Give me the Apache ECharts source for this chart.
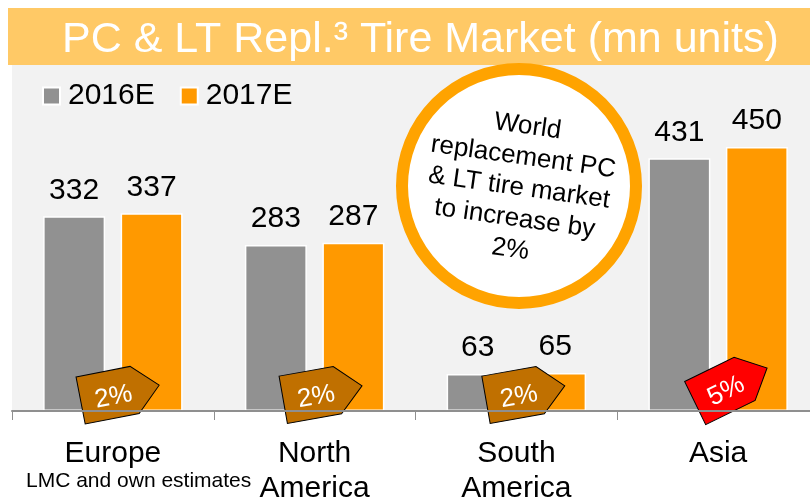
<!DOCTYPE html>
<html>
<head>
<meta charset="utf-8">
<script src="https://cdn.jsdelivr.net/npm/echarts@6/dist/echarts.min.js"></script>
<style>
  html, body { margin: 0; padding: 0; background: #ffffff; }
  #chart { width: 810px; height: 504px; }
</style>
</head>
<body>
<div id="chart"></div>
<script>
const categories = ['Europe', 'North\nAmerica', 'South\nAmerica', 'Asia'];
const seriesNames = ['2016E', '2017E'];
const values2016 = [332, 283, 63, 431];
const values2017 = [337, 287, 65, 450];
const growthLabels = ['2%', '2%', '2%', '5%'];
const badgeLevel = [31, 31, 31, 43.5];
const badgeShift = [7, 8, 9, 13];
const badgeTilt = [11, 10, 10, 26];
const badgeColors = ['#C07000', '#C07000', '#C07000', '#FF0000'];
const titleText = 'PC & LT Repl.\u00B3 Tire Market (mn units)';
const calloutText = 'World\nreplacement PC\n& LT tire market\nto increase by\n2%';
const sourceText = 'LMC and own estimates';

const FONT = '"Liberation Sans", Arial, sans-serif';
const chart = echarts.init(document.getElementById('chart'), null, { renderer: 'canvas' });

const staticGraphics = [
  { id: 'band', type: 'rect', shape: { x: 8, y: 8, width: 810, height: 57 }, style: { fill: '#FFC966' }, z: -3, silent: true },
  { id: 'ring', type: 'circle', shape: { cx: 519, cy: 186, r: 117 }, style: { fill: '#ffffff', stroke: '#FFA300', lineWidth: 12 }, z: 10, silent: true },
  {
    id: 'note', type: 'text', x: 519, y: 188, rotation: -8 * Math.PI / 180, z: 11, silent: true,
    style: { text: calloutText, fill: '#000000', font: '26px ' + FONT, align: 'center', verticalAlign: 'middle', lineHeight: 31 }
  }
];

const option = {
  animation: false,
  backgroundColor: '#ffffff',
  textStyle: { fontFamily: FONT },
  title: [
    {
      text: titleText,
      left: 62, top: 17, padding: 0, z: 1,
      textStyle: { color: '#ffffff', fontSize: 43, fontWeight: 'normal', fontFamily: FONT, lineHeight: 46 }
    },
    {
      text: sourceText,
      left: 26, top: 471, padding: 0, z: 1,
      textStyle: { color: '#000000', fontSize: 21, fontWeight: 'normal', fontFamily: FONT }
    }
  ],
  legend: {
    data: seriesNames,
    left: 42, top: 81, padding: 0, z: 1,
    itemWidth: 17, itemHeight: 17, itemGap: 25,
    icon: 'rect',
    textStyle: { fontSize: 30, color: '#000000', fontFamily: FONT, padding: [0, 0, 0, 3] }
  },
  grid: {
    left: 12, width: 807, top: 65, bottom: 93, z: -2,
    outerBoundsMode: 'none', containLabel: false,
    show: true, backgroundColor: '#F2F2F2', borderWidth: 0
  },
  xAxis: {
    type: 'category',
    data: categories,
    axisLine: { show: true, lineStyle: { color: '#8F8F8F', width: 2 } },
    axisTick: { show: true, length: 9, lineStyle: { color: '#8F8F8F', width: 1 } },
    axisLabel: { interval: 0, fontSize: 30, lineHeight: 35, margin: 25, color: '#000000', fontFamily: FONT }
  },
  yAxis: { type: 'value', min: 0, max: 590, show: false, splitLine: { show: false } },
  graphic: staticGraphics,
  series: [
    {
      name: seriesNames[0], type: 'bar', data: values2016, z: -1,
      barWidth: 62, barGap: '25%',
      itemStyle: { color: '#919191', borderColor: '#ffffff', borderWidth: 1.5 },
      label: { show: true, position: 'top', distance: 11, fontSize: 30, color: '#000000', fontFamily: FONT }
    },
    {
      name: seriesNames[1], type: 'bar', data: values2017, z: -1,
      barWidth: 62, barGap: '25%',
      itemStyle: { color: '#FF9900', borderColor: '#ffffff', borderWidth: 1.5 },
      label: { show: true, position: 'top', distance: 11, fontSize: 30, color: '#000000', fontFamily: FONT }
    }
  ]
};
chart.setOption(option);

// growth badges, positioned through the chart's own axes
const badgeGraphics = categories.map((c, i) => {
  const p = chart.convertToPixel({ xAxisIndex: 0, yAxisIndex: 0 }, [c, badgeLevel[i]]);
  return {
    id: 'badge' + i,
    type: 'group',
    x: p[0] + badgeShift[i],
    y: p[1],
    rotation: badgeTilt[i] * Math.PI / 180,
    z: 50,
    silent: true,
    children: [
      {
        type: 'polygon',
        shape: { points: [[-40, -24], [15, -24], [40, 0], [15, 24], [-40, 24]] },
        style: { fill: badgeColors[i], stroke: '#000000', lineWidth: 1 }
      },
      {
        type: 'text',
        x: -7, y: 3,
        style: { text: growthLabels[i], fill: '#ffffff', font: '26px ' + FONT, align: 'center', verticalAlign: 'middle' }
      }
    ]
  };
});
chart.setOption({ graphic: staticGraphics.concat(badgeGraphics) });
</script>
</body>
</html>
